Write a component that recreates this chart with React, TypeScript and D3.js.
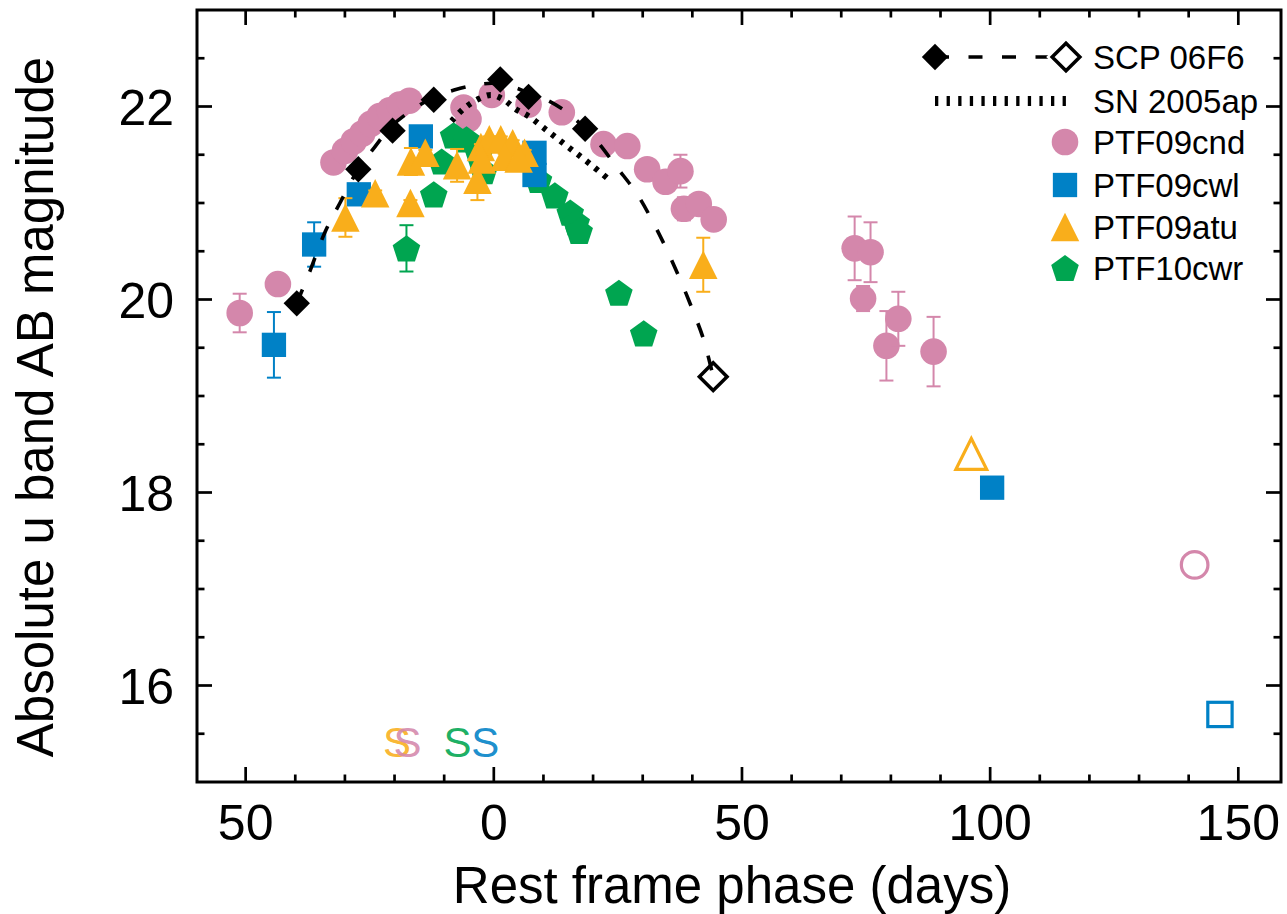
import React from 'react';
import * as d3 from 'd3';

const W = 1287;
const H = 914;

// ---------- data ----------
// PTF09cnd (pink circles)
const cndPhase = [-51.2, -43.5, -32.3, -30.0, -28.2, -26.5, -24.8, -23.0, -21.0, -19.0, -17.0, -6.1, -5.1, -0.4, 7.0, 13.7, 22.1, 26.9, 30.9, 34.6, 37.6, 38.3, 41.3, 44.3, 72.7, 74.4, 75.9, 79.1, 81.5, 88.6];
const cndMag = [19.86, 20.16, 21.42, 21.54, 21.64, 21.72, 21.82, 21.90, 21.96, 22.02, 22.06, 21.99, 21.87, 22.12, 22.02, 21.94, 21.61, 21.59, 21.35, 21.22, 21.33, 20.94, 20.99, 20.83, 20.53, 20.01, 20.49, 19.52, 19.80, 19.46];
const cndErr = [0.20, 0.05, 0.04, 0.04, 0.04, 0.04, 0.04, 0.04, 0.04, 0.04, 0.04, 0.04, 0.04, 0.04, 0.04, 0.04, 0.04, 0.04, 0.04, 0.08, 0.17, 0.12, 0.06, 0.05, 0.33, 0.13, 0.31, 0.36, 0.28, 0.36];
const cndUpperPhase = [141.2];
const cndUpperMag = [17.25];

// PTF09cwl (blue squares)
const cwlPhase = [-44.3, -36.2, -27.2, -14.7, 8.2, 8.2, 100.4];
const cwlMag = [19.53, 20.57, 21.09, 21.69, 21.52, 21.29, 18.05];
const cwlErr = [0.34, 0.23, 0.05, 0.05, 0.05, 0.05, 0.03];
const cwlUpperPhase = [146.3];
const cwlUpperMag = [15.70];

// PTF09atu (orange triangles)
const atuPhase = [-29.9, -23.9, -16.8, -16.7, -13.8, -7.4, -3.3, -2.6, -0.9, 1.4, 3.8, 6.2, -2.4, 2.2, 5.0, 42.2];
const atuMag = [20.85, 21.10, 21.00, 21.43, 21.52, 21.39, 21.24, 21.58, 21.66, 21.66, 21.62, 21.52, 21.45, 21.48, 21.46, 20.36];
const atuErr = [0.20, 0.03, 0.03, 0.14, 0.03, 0.17, 0.21, 0.03, 0.03, 0.03, 0.03, 0.03, 0.03, 0.03, 0.03, 0.28];
const atuUpperPhase = [96.2];
const atuUpperMag = [18.40];

// PTF10cwr (green pentagons)
const cwrPhase = [-17.6, -12.1, -10.5, -8.1, -5.5, -3.0, -2.0, 9.0, 12.3, 15.4, 16.6, 17.2, 25.2, 30.2];
const cwrMag = [20.53, 21.09, 21.43, 21.70, 21.66, 21.50, 21.33, 21.24, 21.08, 20.90, 20.80, 20.71, 20.07, 19.65];
const cwrErr = [0.24, 0.03, 0.03, 0.03, 0.03, 0.03, 0.03, 0.03, 0.03, 0.03, 0.03, 0.03, 0.06, 0.03];

// SCP 06F6 (black diamonds)
const scpPhase = [-39.7, -27.3, -20.4, -12.1, 1.3, 7.0, 18.4];
const scpMag = [19.96, 21.35, 21.75, 22.07, 22.28, 22.10, 21.77];
const scpLastPhase = [44.2];
const scpLastMag = [19.20];

// SCP 06F6 template curve (dashed)
const scpCurvePhase = [-39.7, -37, -34, -31, -27.3, -24, -20.5, -16, -12, -8, -4, 0, 4, 7, 11, 15, 18.4, 20.8, 24.8, 28.9, 32.2, 34.9, 37.6, 40.3, 42.3, 44.2];
const scpCurveMag = [19.96, 20.3, 20.7, 21.0, 21.35, 21.58, 21.8, 21.98, 22.1, 22.17, 22.22, 22.24, 22.2, 22.14, 22.06, 21.93, 21.77, 21.64, 21.37, 21.09, 20.79, 20.51, 20.2, 19.86, 19.58, 19.2];

// SN 2005ap (dotted)
const apPhase = [-8.5, -6, -3, -0.5, 2, 4.5, 7, 10, 13, 16, 19.5, 23.5];
const apMag = [21.85, 21.98, 22.08, 22.12, 22.07, 21.97, 21.9, 21.78, 21.66, 21.54, 21.4, 21.23];

// spectral epochs ("S" marks)
const specPhase = [-19.5, -17.4, -7.3, -1.7];
const specObject = ['atu', 'cnd', 'cwr', 'cwl'];

// axes
const xMajorTicks = [-50, 0, 50, 100, 150];
const xTickLabels = ['50', '0', '50', '100', '150'];
const yMajorTicks = [16, 18, 20, 22];
const yTickLabels = ['16', '18', '20', '22'];

const COLORS: Record<string, string> = {
  cnd: '#D487AB',
  cwl: '#0081C6',
  atu: '#F9AE1B',
  cwr: '#00A550',
  scp: '#000000',
};

const FONT = '"Liberation Sans", Arial, Helvetica, sans-serif';

// ---------- geometry ----------
const L = 197, R = 1281, T = 10, B = 782;
const x = d3.scaleLinear().domain([-59.8, 158.6]).range([L, R]);
const y = d3.scaleLinear().domain([15, 23]).range([B, T]);

const xMinor = d3.range(-50, 151, 10).filter((v) => !xMajorTicks.includes(v));
const yMinor = d3.range(15.5, 23, 0.5).filter((v) => !yMajorTicks.includes(v));

function pentagonPath(r: number) {
  const pts: [number, number][] = [];
  const off = 0.0955 * r;
  for (let k = 0; k < 5; k++) {
    const a = (-90 + 72 * k) * Math.PI / 180;
    pts.push([r * Math.cos(a), r * Math.sin(a) + off]);
  }
  return 'M' + pts.map((p) => p.join(',')).join('L') + 'Z';
}
function trianglePath(w: number, h: number) {
  return `M0,${-h / 2}L${w / 2},${h / 2}L${-w / 2},${h / 2}Z`;
}
function diamondPath(s: number) {
  return `M0,${-s}L${s},0L0,${s}L${-s},0Z`;
}

type Shape = 'circle' | 'square' | 'triangle' | 'pentagon' | 'diamond';

function Marker({ shape, cx, cy, color, open, size }: { shape: Shape; cx: number; cy: number; color: string; open?: boolean; size?: number }) {
  const fill = open ? 'none' : color;
  const stroke = open ? color : 'none';
  const sw = open ? 3.2 : 0;
  const s = size ?? 1;
  if (shape === 'circle') return <circle cx={cx} cy={cy} r={13.3 * s} fill={fill} stroke={stroke} strokeWidth={sw} />;
  if (shape === 'square') {
    const a = 24.3 * s;
    return <rect x={cx - a / 2} y={cy - a / 2} width={a} height={a} fill={fill} stroke={stroke} strokeWidth={sw} />;
  }
  if (shape === 'triangle') return <path transform={`translate(${cx},${cy})`} d={trianglePath(28.5 * s, 28.5 * s)} fill={fill} stroke={stroke} strokeWidth={sw} strokeLinejoin="miter" />;
  if (shape === 'pentagon') return <path transform={`translate(${cx},${cy})`} d={pentagonPath(14.5 * s)} fill={fill} stroke={stroke} strokeWidth={sw} />;
  return <path transform={`translate(${cx},${cy})`} d={diamondPath(13.2 * s)} fill={fill} stroke={stroke} strokeWidth={open ? 3.5 : 0} />;
}

function Series({ phase, mag, err, shape, color }: { phase: number[]; mag: number[]; err?: number[]; shape: Shape; color: string }) {
  return (
    <g>
      {phase.map((p, i) => {
        const cx = x(p);
        const e = err ? err[i] : 0;
        const y1 = y(mag[i] + e);
        const y2 = y(mag[i] - e);
        return (
          <g key={i}>
            {e > 0 && (
              <g stroke={color} strokeWidth={2}>
                <line x1={cx} x2={cx} y1={y1} y2={y2} />
                <line x1={cx - 7} x2={cx + 7} y1={y1} y2={y1} />
                <line x1={cx - 7} x2={cx + 7} y1={y2} y2={y2} />
              </g>
            )}
            <Marker shape={shape} cx={cx} cy={y(mag[i])} color={color} />
          </g>
        );
      })}
    </g>
  );
}

export default function App() {
  const lineGen = d3
    .line<[number, number]>()
    .x((d) => x(d[0]))
    .y((d) => y(d[1]))
    .curve(d3.curveCatmullRom.alpha(0.5));
  const scpCurve = lineGen(scpCurvePhase.map((p, i) => [p, scpCurveMag[i]] as [number, number])) || '';
  const apCurve = lineGen(apPhase.map((p, i) => [p, apMag[i]] as [number, number])) || '';

  const legendRows = [
    { label: 'SCP 06F6', y: 57 },
    { label: 'SN 2005ap', y: 101 },
    { label: 'PTF09cnd', y: 142, shape: 'circle' as Shape, color: COLORS.cnd },
    { label: 'PTF09cwl', y: 185, shape: 'square' as Shape, color: COLORS.cwl },
    { label: 'PTF09atu', y: 227, shape: 'triangle' as Shape, color: COLORS.atu },
    { label: 'PTF10cwr', y: 268, shape: 'pentagon' as Shape, color: COLORS.cwr },
  ];

  return (
    <svg width={W} height={H} style={{ position: 'absolute', left: 0, top: 0, background: '#fff' }} fontFamily={FONT}>
      <rect x={0} y={0} width={W} height={H} fill="#fff" />

      {/* data */}
      <Series phase={cndPhase} mag={cndMag} err={cndErr} shape="circle" color={COLORS.cnd} />
      <Series phase={cwrPhase} mag={cwrMag} err={cwrErr} shape="pentagon" color={COLORS.cwr} />
      <Series phase={cwlPhase} mag={cwlMag} err={cwlErr} shape="square" color={COLORS.cwl} />
      <Series phase={atuPhase} mag={atuMag} err={atuErr} shape="triangle" color={COLORS.atu} />

      {cndUpperPhase.map((p, i) => <Marker key={'cu' + i} shape="circle" cx={x(p)} cy={y(cndUpperMag[i])} color={COLORS.cnd} open />)}
      {cwlUpperPhase.map((p, i) => <Marker key={'wu' + i} shape="square" cx={x(p)} cy={y(cwlUpperMag[i])} color={COLORS.cwl} open />)}
      {atuUpperPhase.map((p, i) => <Marker key={'au' + i} shape="triangle" cx={x(p)} cy={y(atuUpperMag[i])} color={COLORS.atu} open size={1.08} />)}

      <path d={apCurve} fill="none" stroke="#000" strokeWidth={6} strokeDasharray="4 7" />
      <path d={scpCurve} fill="none" stroke="#000" strokeWidth={3.6} strokeDasharray="15 19" />

      {scpPhase.map((p, i) => <Marker key={'s' + i} shape="diamond" cx={x(p)} cy={y(scpMag[i])} color="#000" />)}
      {scpLastPhase.map((p, i) => <Marker key={'sl' + i} shape="diamond" cx={x(p)} cy={y(scpLastMag[i])} color="#000" open size={1.05} />)}

      {/* spectral epochs */}
      {specPhase.map((p, i) => (
        <text key={'S' + i} x={x(p)} y={757} textAnchor="middle" fontSize={42} fill={COLORS[specObject[i]]} fillOpacity={0.9}>S</text>
      ))}

      {/* frame */}
      <rect x={L} y={T} width={R - L} height={B - T} fill="none" stroke="#000" strokeWidth={3} />
      <g stroke="#000" strokeWidth={2.7}>
        {xMajorTicks.map((t) => (
          <g key={'xm' + t}>
            <line x1={x(t)} x2={x(t)} y1={B} y2={B - 15} />
            <line x1={x(t)} x2={x(t)} y1={T} y2={T + 15} />
          </g>
        ))}
        {xMinor.map((t) => (
          <g key={'xn' + t}>
            <line x1={x(t)} x2={x(t)} y1={B} y2={B - 7.5} />
            <line x1={x(t)} x2={x(t)} y1={T} y2={T + 7.5} />
          </g>
        ))}
        {yMajorTicks.map((t) => (
          <g key={'ym' + t}>
            <line x1={L} x2={L + 15} y1={y(t)} y2={y(t)} />
            <line x1={R} x2={R - 15} y1={y(t)} y2={y(t)} />
          </g>
        ))}
        {yMinor.map((t) => (
          <g key={'yn' + t}>
            <line x1={L} x2={L + 7.5} y1={y(t)} y2={y(t)} />
            <line x1={R} x2={R - 7.5} y1={y(t)} y2={y(t)} />
          </g>
        ))}
      </g>

      {/* tick labels */}
      {xMajorTicks.map((t, i) => (
        <text key={'xl' + t} x={x(t)} y={840} textAnchor="middle" fontSize={50}>{xTickLabels[i]}</text>
      ))}
      {yMajorTicks.map((t, i) => (
        <text key={'yl' + t} x={174} y={y(t)} dy="0.36em" textAnchor="end" fontSize={50}>{yTickLabels[i]}</text>
      ))}

      {/* axis titles */}
      <text x={732} y={903} textAnchor="middle" fontSize={51}>Rest frame phase (days)</text>
      <text transform="translate(53,407) rotate(-90)" textAnchor="middle" fontSize={51}>Absolute u band AB magnitude</text>

      {/* legend */}
      <g>
        <line x1={935} x2={1066} y1={57} y2={57} stroke="#000" strokeWidth={3.3} strokeDasharray="14 19.5" />
        <Marker shape="diamond" cx={935} cy={57} color="#000" />
        <rect x={1052} y={43} width={28} height={28} fill="#fff" transform="rotate(45,1066,57)" />
        <Marker shape="diamond" cx={1066} cy={57} color="#000" open size={1.05} />
        <line x1={935} x2={1066} y1={101} y2={101} stroke="#000" strokeWidth={10} strokeDasharray="3.3 8.3" />
        {legendRows.map((r) => (
          <g key={r.label}>
            {r.shape && <Marker shape={r.shape} cx={1065} cy={r.y} color={r.color!} />}
            <text x={1093} y={r.y} dy="0.36em" fontSize={33}>{r.label}</text>
          </g>
        ))}
      </g>
    </svg>
  );
}
